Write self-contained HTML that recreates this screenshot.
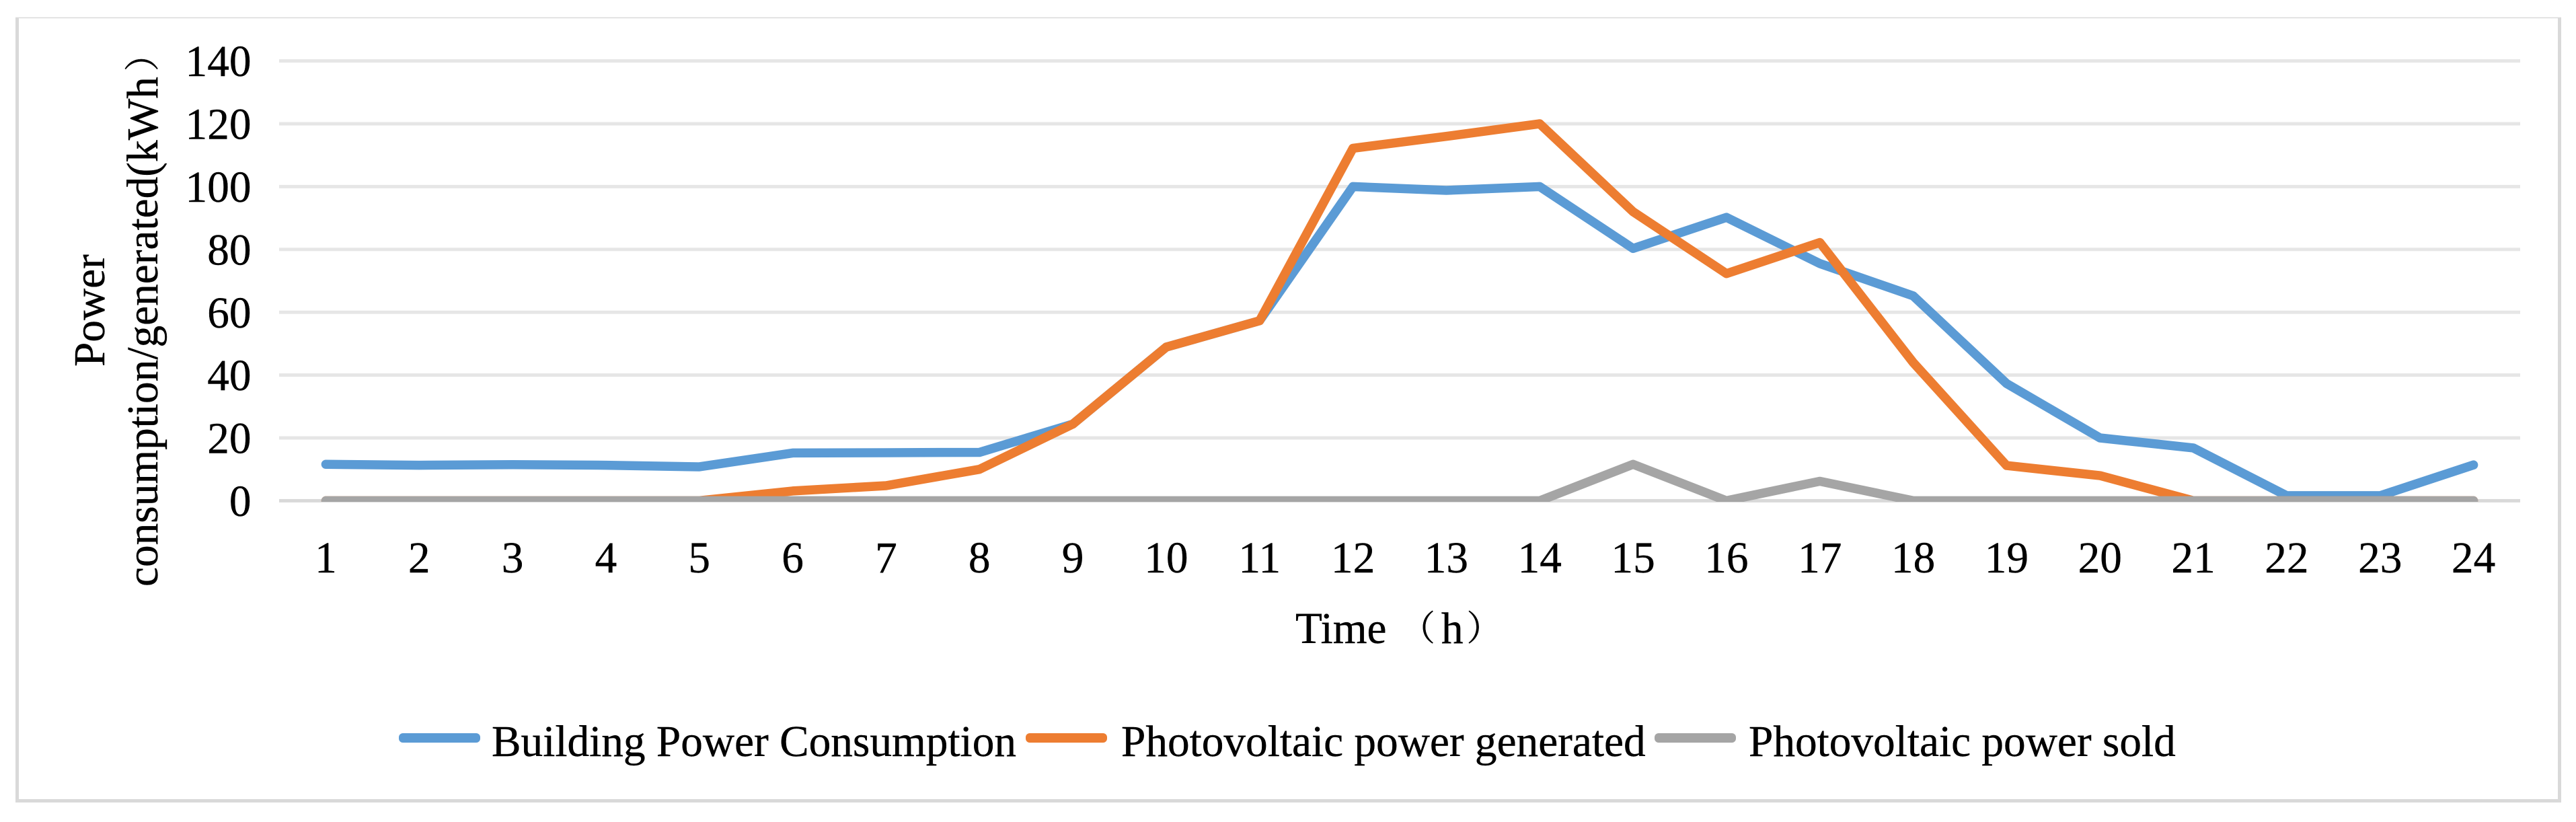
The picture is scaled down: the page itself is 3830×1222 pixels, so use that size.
<!DOCTYPE html>
<html lang="en">
<head>
<meta charset="utf-8">
<title>Power consumption and generation chart</title>
<style>
html,body{margin:0;padding:0;background:#fff;}
svg{display:block;}
text{font-family:"Liberation Serif","Noto Serif CJK SC",serif;font-size:65.3px;fill:#000;stroke:#000;stroke-width:0.4px;}
</style>
</head>
<body>
<svg id="chart" xmlns="http://www.w3.org/2000/svg" width="3830" height="1222" viewBox="0 0 3830 1222">
  <rect x="0" y="0" width="3830" height="1222" fill="#fff"/>
  <rect x="23" y="25.7" width="3785" height="1.5" fill="#d9d9d9"/>
  <rect x="23" y="26" width="5" height="1167" fill="#d9d9d9"/>
  <rect x="3803" y="26" width="5" height="1167" fill="#d9d9d9"/>
  <rect x="23" y="1188" width="3785" height="5" fill="#d9d9d9"/>
  <defs>
    <clipPath id="plot-clip"><rect x="415" y="40" width="3332" height="706"/></clipPath>
  </defs>
  <g id="grid"></g>
  <g id="yticks"></g>
  <g id="xticks"></g>
  <g id="series" clip-path="url(#plot-clip)"></g>
  <text transform="translate(155 545) rotate(-90)">Power</text>
  <text transform="translate(234 872) rotate(-90)">consumption/generated(kWh<tspan dx="8" dy="-4" font-size="52">）</tspan></text>
  <text x="1926" y="956">Time <tspan dx="4" dy="-4" font-size="52">（</tspan><tspan dx="9" dy="4">h</tspan><tspan dx="5" dy="-4" font-size="52">）</tspan></text>
  <g>
    <rect x="593" y="1090" width="121" height="14" rx="6" fill="#5B9BD5"/>
    <text x="731" y="1124">Building Power Consumption</text>
    <rect x="1525" y="1090" width="121" height="14" rx="6" fill="#ED7D31"/>
    <text x="1667" y="1124">Photovoltaic power generated</text>
    <rect x="2460" y="1090" width="121" height="14" rx="6" fill="#A5A5A5"/>
    <text x="2600" y="1124">Photovoltaic power sold</text>
  </g>
</svg>
<script>
var hours = [1,2,3,4,5,6,7,8,9,10,11,12,13,14,15,16,17,18,19,20,21,22,23,24];
var yTicks = [0,20,40,60,80,100,120,140];
var consumption = [11.6,11.3,11.5,11.3,10.8,15.2,15.3,15.4,24.4,48.9,57.3,100,98.8,100,80.3,90.2,75.5,65.2,37.3,20,16.8,1.6,1.6,11.4];
var generated = [0,0,0,0,0,3.1,4.8,10,24.4,48.9,57.3,112.2,116,120,92,72.3,82.2,44,11.2,8,0,0,0,0];
var sold = [0,0,0,0,0,0,0,0,0,0,0,0,0,0,11.6,0,6.2,0,0,0,0,0,0,0];

var NS = 'http://www.w3.org/2000/svg';
var plotLeft = 415, plotRight = 3747, plotBottom = 744.4, plotTop = 90.6, yMax = 140;

function xScale(i) {
  return plotLeft + (i + 0.5) * (plotRight - plotLeft) / hours.length;
}
function yScale(v) {
  return plotBottom - v * (plotBottom - plotTop) / yMax;
}

var grid = document.getElementById('grid');
var yG = document.getElementById('yticks');
var xG = document.getElementById('xticks');
var seriesG = document.getElementById('series');

yTicks.forEach(function (t) {
  var r = document.createElementNS(NS, 'rect');
  
  
  r.setAttribute('x', plotLeft);
  r.setAttribute('y', yScale(t) - 2.5);
  r.setAttribute('width', plotRight - plotLeft);
  r.setAttribute('height', 5);
  r.setAttribute('fill', t === 0 ? '#d9d9d9' : '#e6e6e6');
  grid.appendChild(r);

  var l = document.createElementNS(NS, 'text');
  
  
  l.setAttribute('x', 373.5);
  l.setAttribute('y', yScale(t) + 22.6);
  l.setAttribute('text-anchor', 'end');
  l.textContent = t;
  yG.appendChild(l);
});

hours.forEach(function (h, i) {
  var l = document.createElementNS(NS, 'text');
  
  
  l.setAttribute('x', xScale(i));
  l.setAttribute('y', 851);
  l.setAttribute('text-anchor', 'middle');
  l.textContent = h;
  xG.appendChild(l);
});

function drawLine(values, color, name) {
  var pts = values.map(function (v, i) { return xScale(i) + ',' + yScale(v); }).join(' ');
  var p = document.createElementNS(NS, 'polyline');
  
  
  p.setAttribute('points', pts);
  p.setAttribute('fill', 'none');
  p.setAttribute('stroke', color);
  p.setAttribute('stroke-width', 13.5);
  p.setAttribute('stroke-linejoin', 'round');
  p.setAttribute('stroke-linecap', 'round');
  seriesG.appendChild(p);
}
drawLine(consumption, '#5B9BD5', 'line-building-power-consumption');
drawLine(generated, '#ED7D31', 'line-photovoltaic-power-generated');
drawLine(sold, '#A5A5A5', 'line-photovoltaic-power-sold');
</script>
</body>
</html>
